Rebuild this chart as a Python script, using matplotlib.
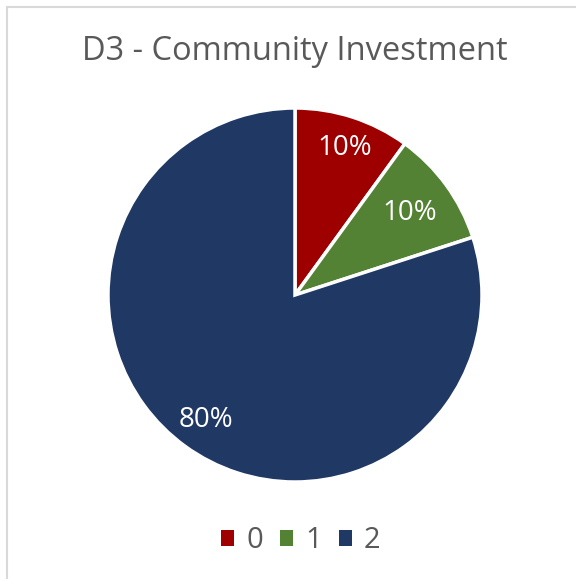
import matplotlib
matplotlib.use("Agg")
import matplotlib.pyplot as plt
from matplotlib.patches import Rectangle

categories = ["0", "1", "2"]
shares = [10, 10, 80]
colors = ["#9E0000", "#548235", "#1F3864"]

plt.rcParams['font.family'] = ['Open Sans', 'DejaVu Sans']

W, H = 576, 579
fig = plt.figure(figsize=(W / 100, H / 100), dpi=100)
fig.patch.set_facecolor("white")

# light frame around the chart area
fig.patches.append(Rectangle((7 / W, -0.05), 1.2, 1 - 7 / H + 0.05,
                             transform=fig.transFigure, fill=False,
                             edgecolor="#D9D9D9", linewidth=1.5))

cx, cy, r = 295, 295, 187
ax = fig.add_axes([(cx - r) / W, 1 - (cy + r) / H, 2 * r / W, 2 * r / H])
ax.set_aspect("equal")

wedges, texts, autotexts = ax.pie(
    shares, colors=colors, startangle=90, counterclock=False,
    radius=1.0, autopct=lambda p: f"{p:.0f}%",
    wedgeprops=dict(edgecolor="white", linewidth=2.5),
    textprops=dict(color="white", fontsize=20))
ax.set_xlim(-1, 1)
ax.set_ylim(-1, 1)

# best-fit label placement (axes data units, radius 1)
label_pos = [(0.265, 0.785), (0.615, 0.44), (-0.475, -0.67)]
for t, (x, y) in zip(autotexts, label_pos):
    t.set_position((x, y))

fig.text(295 / W, 1 - 51 / H, "D3 - Community Investment",
         ha="center", va="center", fontsize=23.5, color="#595959")

leg = fig.legend(wedges, categories, loc="center", ncol=3,
                 bbox_to_anchor=(301 / W, 1 - 541 / H), frameon=False,
                 fontsize=21, handlelength=0.45, handleheight=0.45,
                 handletextpad=0.4, columnspacing=0.6)
for t in leg.get_texts():
    t.set_color("#595959")
for h in leg.legend_handles:
    h.set_edgecolor("none")

fig.savefig("out.png", dpi=100)
